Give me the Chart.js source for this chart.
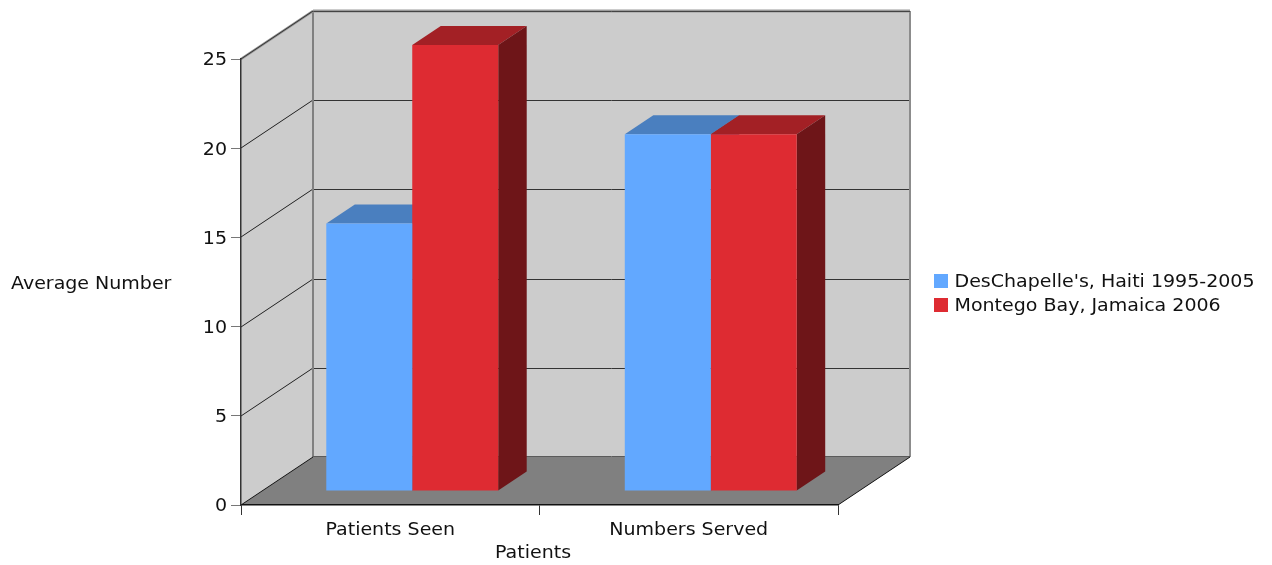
<!DOCTYPE html>
<html>
<head>
<meta charset="utf-8">
<title>Average Number of Patients</title>
<style>
  html, body { margin: 0; padding: 0; background: #fff; }
  #wrap { position: relative; width: 1272px; height: 565px; }
</style>
<script src="https://cdn.jsdelivr.net/npm/chart.js@4"></script>
</head>
<body>
<div id="wrap"><canvas id="patientsChart"></canvas></div>
<script>
const categories = ["Patients Seen", "Numbers Served"];
const haitiValues = [15, 20];
const jamaicaValues = [25, 20];
const seriesNames = ["DesChapelle's, Haiti 1995-2005", "Montego Bay, Jamaica 2006"];
const xTitle = "Patients";
const yTitle = "Average Number";

const FONT = "'DejaVu Sans', Verdana, sans-serif";
const FONT_SIZE = 17;
// all chart text is drawn a bit wider and lower than the plain font
const TEXT_STRETCH = 1.118;
const TEXT_DROP = 2;

// room depth and how far into it the bars stand
const DEPTH = { x: 72, y: -48 };
const BAR_OFFSET = { x: 22, y: -14 };
const BAR_DEPTH = { x: 28.5, y: -19 };
const LEGEND_WIDTH = 343;

const faceColors = [
  { front: "#62a8ff", top: "#4a7fbf", side: "#3a6596" },
  { front: "#de2b32", top: "#a32025", side: "#6e1518" },
];

function poly(ctx, pts, fill) {
  ctx.beginPath();
  pts.forEach((p, i) => (i ? ctx.lineTo(p[0], p[1]) : ctx.moveTo(p[0], p[1])));
  ctx.closePath();
  ctx.fillStyle = fill;
  ctx.fill();
}

function line(ctx, x1, y1, x2, y2, color, width) {
  ctx.beginPath();
  ctx.moveTo(x1, y1);
  ctx.lineTo(x2, y2);
  ctx.strokeStyle = color;
  ctx.lineWidth = width;
  ctx.stroke();
}

function stretchText(ctx) {
  const fillText = ctx.fillText.bind(ctx);
  const measureText = ctx.measureText.bind(ctx);
  ctx.fillText = (text, x, y) => {
    ctx.save();
    ctx.translate(x, y + TEXT_DROP);
    ctx.scale(TEXT_STRETCH, 1);
    fillText(text, 0, 0);
    ctx.restore();
  };
  ctx.measureText = (text) => ({ width: measureText(text).width * TEXT_STRETCH });
}

const room3d = {
  id: "room3d",
  beforeUpdate(chart) {
    const legend = chart.legend;
    if (legend._patched) return;
    stretchText(chart.ctx);
    // the layout caps side boxes at a share of half the canvas, too narrow for this legend
    const fit = legend.fit;
    legend.fit = function () {
      this.maxWidth = LEGEND_WIDTH;
      fit.call(this);
      this.width = LEGEND_WIDTH;
    };
    legend._patched = true;
  },
  beforeDraw(chart) {
    const { ctx, chartArea: a, scales } = chart;
    const dx = DEPTH.x;
    const dy = DEPTH.y;
    ctx.save();
    // left wall, back wall, floor
    poly(ctx, [[a.left, a.bottom], [a.left, a.top], [a.left + dx, a.top + dy], [a.left + dx, a.bottom + dy]], "#cccccc");
    poly(ctx, [[a.left + dx, a.top + dy], [a.right + dx, a.top + dy], [a.right + dx, a.bottom + dy], [a.left + dx, a.bottom + dy]], "#cccccc");
    poly(ctx, [[a.left, a.bottom], [a.right, a.bottom], [a.right + dx, a.bottom + dy], [a.left + dx, a.bottom + dy]], "#808080");

    scales.y.ticks.forEach((t) => {
      if (t.value === 0 || t.value === scales.y.max) return;
      const y = Math.round(scales.y.getPixelForValue(t.value));
      line(ctx, a.left, y, a.left + dx, y + dy, "#222", 1);
      line(ctx, a.left + dx, y + dy + 0.5, a.right + dx, y + dy + 0.5, "#333", 1);
    });

    line(ctx, a.left + dx, a.top + dy, a.left + dx, a.bottom + dy, "#808080", 2);
    line(ctx, a.right + dx, a.top + dy, a.right + dx, a.bottom + dy, "#8c8c8c", 2);
    line(ctx, a.left + dx, a.top + dy, a.right + dx, a.top + dy, "#9a9a9a", 3);
    line(ctx, a.left + dx, a.top + dy + 0.5, a.right + dx, a.top + dy + 0.5, "#444", 1);
    line(ctx, a.left, a.top, a.left + dx, a.top + dy, "#909090", 2.5);
    line(ctx, a.left, a.top, a.left + dx, a.top + dy, "#333", 1);
    line(ctx, a.left + dx, a.bottom + dy - 0.5, a.right + dx, a.bottom + dy - 0.5, "#5a5a5a", 1);
    line(ctx, a.left, a.bottom, a.left + dx, a.bottom + dy, "#111", 1);
    line(ctx, a.right, a.bottom, a.right + dx, a.bottom + dy, "#111", 1);
    ctx.restore();
  },
  beforeDatasetsDraw(chart) {
    const { ctx } = chart;
    ctx.save();
    ctx.translate(BAR_OFFSET.x, BAR_OFFSET.y);
    // extruded tops and sides go behind the library's front faces
    chart.data.datasets.forEach((ds, i) => {
      chart.getDatasetMeta(i).data.forEach((bar) => {
        const { x, y, base, width } = bar.getProps(["x", "y", "base", "width"], true);
        const l = x - width / 2;
        const r = x + width / 2;
        const bx = BAR_DEPTH.x;
        const by = BAR_DEPTH.y;
        poly(ctx, [[l, y], [r, y], [r + bx, y + by], [l + bx, y + by]], faceColors[i].top);
        poly(ctx, [[r, y], [r + bx, y + by], [r + bx, base + by], [r, base]], faceColors[i].side);
      });
    });
  },
  afterDatasetsDraw(chart) {
    chart.ctx.restore();
  },
  afterDraw(chart) {
    const { ctx } = chart;
    ctx.save();
    ctx.fillStyle = "#111";
    ctx.font = FONT_SIZE + "px " + FONT;
    ctx.textBaseline = "middle";
    ctx.textAlign = "left";
    ctx.fillText(yTitle, 11, 283);
    ctx.textAlign = "center";
    ctx.fillText(xTitle, 533, 552);
    ctx.restore();
  },
};

// swatches: a small box with a thick border of the same colour, so the label sits close to it
function legendLabels(chart) {
  return Chart.defaults.plugins.legend.labels.generateLabels(chart).map((item) => ({
    ...item,
    strokeStyle: item.fillStyle,
    lineWidth: 4,
  }));
}

new Chart(document.getElementById("patientsChart"), {
  type: "bar",
  data: {
    labels: categories,
    datasets: [
      { label: seriesNames[0], data: haitiValues, backgroundColor: faceColors[0].front, clip: false },
      { label: seriesNames[1], data: jamaicaValues, backgroundColor: faceColors[1].front, clip: false },
    ],
  },
  plugins: [room3d],
  options: {
    responsive: true,
    maintainAspectRatio: false,
    animation: false,
    layout: { padding: { top: 21, left: 0, right: 0, bottom: 0 } },
    categoryPercentage: 0.576,
    barPercentage: 1,
    plugins: {
      tooltip: { enabled: false },
      legend: {
        position: "right",
        labels: {
          boxWidth: 10,
          boxHeight: 10,
          padding: 7,
          color: "#111",
          font: { family: FONT, size: FONT_SIZE },
          generateLabels: legendLabels,
        },
      },
    },
    scales: {
      x: {
        grid: { drawOnChartArea: false, tickLength: 10, color: "#333", tickColor: "#333" },
        border: { color: "#111", width: 1.5 },
        ticks: { color: "#111", padding: 3, font: { family: FONT, size: FONT_SIZE } },
        afterFit: (s) => { s.height = 60; },
      },
      y: {
        min: 0,
        max: 25,
        grid: { drawOnChartArea: false, tickLength: 10, tickColor: "#777" },
        border: { color: "#333", width: 1.5 },
        ticks: { stepSize: 5, color: "#111", padding: 4, font: { family: FONT, size: FONT_SIZE } },
        afterFit: (s) => { s.width = 241; },
      },
      // empty axes: keep space above the plot and to the right for the room's depth
      headroom: {
        type: "linear",
        axis: "x",
        position: "top",
        ticks: { display: false },
        grid: { display: false },
        border: { display: false },
        afterFit: (s) => { s.height = 38; },
      },
      depth: {
        type: "linear",
        axis: "y",
        position: "right",
        ticks: { display: false },
        grid: { display: false },
        border: { display: false },
        afterFit: (s) => { s.width = 91; },
      },
    },
  },
});
</script>
</body>
</html>
